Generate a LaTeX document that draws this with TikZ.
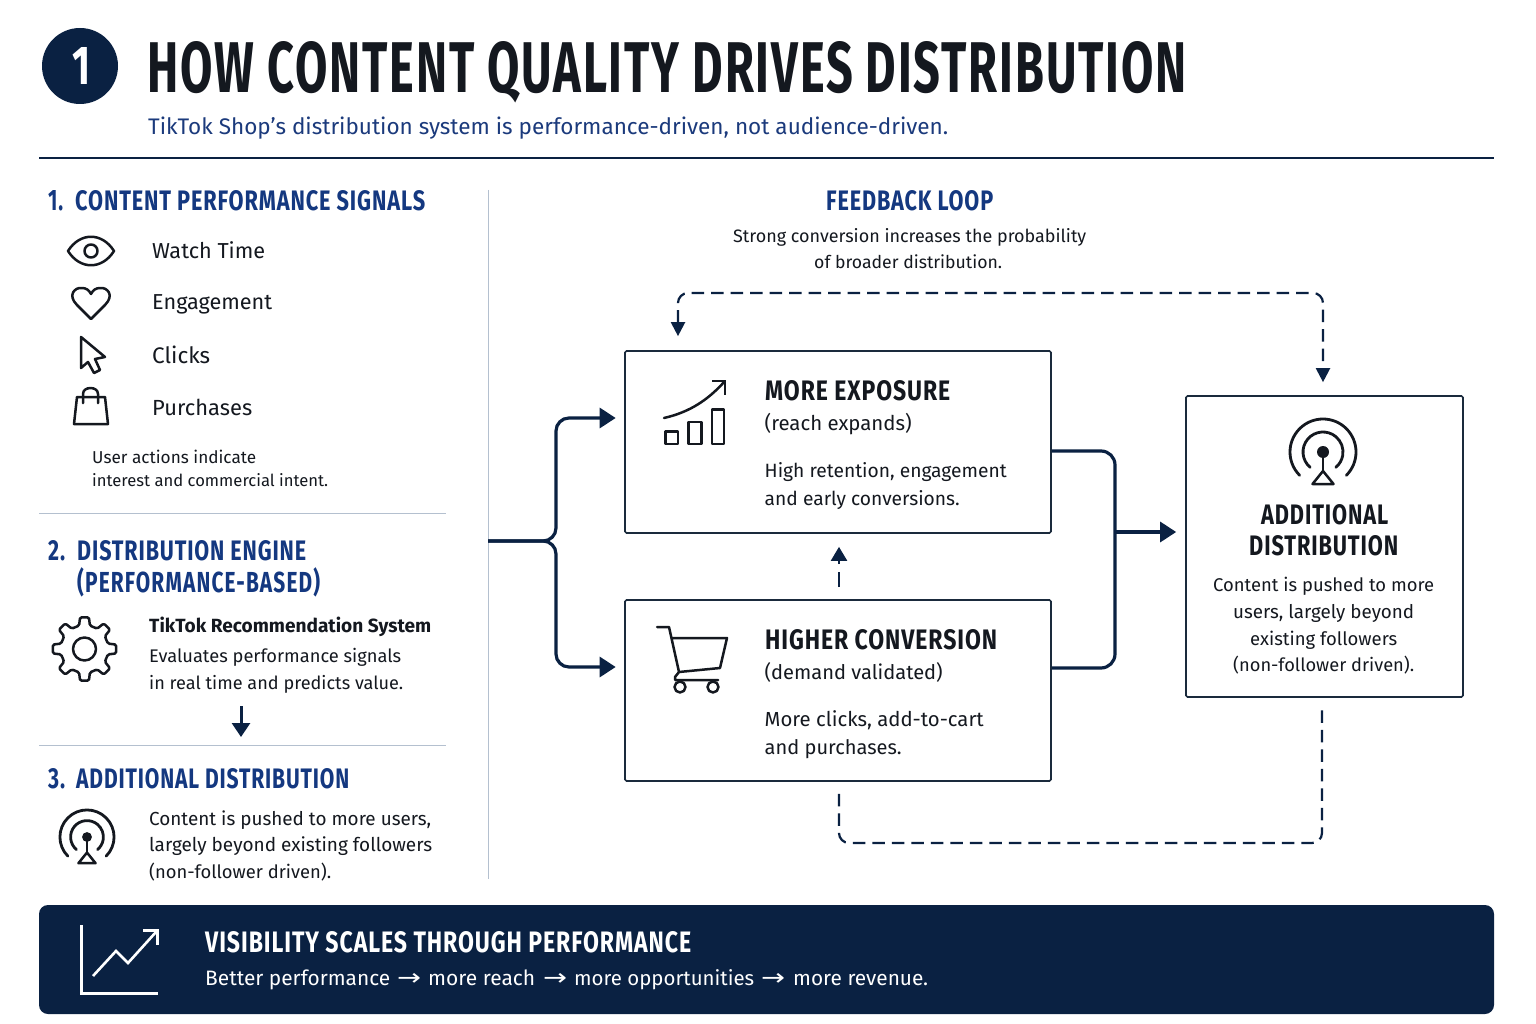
\documentclass[tikz,border=0pt]{standalone}
\usepackage{graphicx}
\usepackage{fontspec}
\setmainfont{Fira Sans}
\newfontfamily\headfont[LetterSpace=4]{Fira Sans Bold}
\newfontfamily\arrowfont{DejaVu Sans}
\usetikzlibrary{arrows.meta,calc}
\definecolor{navy}{HTML}{0A2142}
\definecolor{ink}{HTML}{14181F}
\definecolor{headblue}{HTML}{143880}
\definecolor{subblue}{HTML}{1B3A7C}
\definecolor{rule}{HTML}{B4C0CF}
\definecolor{boxline}{HTML}{1A2A3C}
\newcommand{\bodytxt}[6]{\node[#5,anchor=base west,inner sep=0pt] (#1) at (#2,#3) {\resizebox{#4pt}{!}{#6}};}
\newcommand{\headtxt}[7]{\node[#6,anchor=base west,inner sep=0pt] (#1) at (#2,#3) {\resizebox{#4pt}{#5pt}{\headfont #7}};}
\tikzset{
 body/.style={text=ink,font=\fontsize{20}{24}\selectfont},
 blk/.style={text=ink},
 sec/.style={text=headblue},
 wht/.style={text=white,font=\fontsize{20}{24}\selectfont},
 sub/.style={text=subblue,font=\fontsize{20}{24}\selectfont},
 boxst/.style={draw=boxline,line width=1.7pt,rounded corners=1.5pt,fill=white,inner sep=0pt},
 flow/.style={draw=navy,line width=3.2pt,rounded corners=13pt,-{Triangle[length=16pt,width=20pt]}},
 flowb/.style={draw=navy,line width=3.2pt,rounded corners=14pt},
 loopline/.style={draw=navy,line width=2.2pt,dash pattern=on 12.5pt off 7pt,rounded corners=10pt},
 tipsmall/.style={{Triangle[length=14pt,width=14pt]}-{Triangle[length=14pt,width=14pt]}},
 icon/.style={draw=ink,line width=2.5pt,line join=round,line cap=round},
 wicon/.style={draw=white,line width=3pt,line join=miter},
 divider/.style={draw=rule,line width=1pt},
}
\newcommand{\antennaicon}[3]{%
 \begin{scope}[shift={(#1,#2)},scale=#3]
  \draw[icon,line width=2.8pt] (135:33) arc[start angle=135,end angle=405,radius=33];
  \draw[icon,line width=2.8pt] (130:20) arc[start angle=130,end angle=410,radius=20];
  \fill[ink] (0,0) circle (6);
  \draw[icon] (0,0) -- (0,20);
  \draw[icon,line cap=butt] (0,19) -- (10.5,32) -- (-10.5,32) -- cycle;
 \end{scope}}
\begin{document}
\begin{tikzpicture}[x=1pt,y=-1pt]
\useasboundingbox (0,0) rectangle (1536,1024);
\fill[white] (0,0) rectangle (1536,1024);

% header
\node[circle,fill=navy,minimum size=76pt,inner sep=0pt] (badge) at (80,66) {};
\headtxt{badgenum}{72}{85}{18}{37}{text=white}{1}
\headtxt{title}{147}{93}{1039}{51}{text=ink}{HOW CONTENT QUALITY DRIVES DISTRIBUTION}
\bodytxt{subtitle}{148}{135}{800}{sub}{TikTok Shop’s distribution system is performance-driven, not audience-driven.}
\coordinate (hruleL) at (39,158); \coordinate (hruleR) at (1494,158);
\draw[draw=navy,line width=1.1pt] (hruleL) -- (hruleR);

% dividers
\coordinate (vtop) at (488,190); \coordinate (vbot) at (488,879);
\draw[divider] (vtop) -- (vbot);
\coordinate (d1l) at (39,513); \coordinate (d1r) at (446,513);
\coordinate (d2l) at (39,745); \coordinate (d2r) at (446,745);
\draw[divider] (d1l) -- (d1r);
\draw[divider] (d2l) -- (d2r);

% section 1
\headtxt{s1n}{48}{211}{15}{20}{sec}{1.}
\headtxt{s1}{75}{211}{350}{20}{sec}{CONTENT PERFORMANCE SIGNALS}
\bodytxt{watch}{152}{259}{113}{body}{Watch Time}
\bodytxt{engage}{152}{309}{120}{body}{Engagement}
\bodytxt{clicks}{152}{363}{58}{body}{Clicks}
\bodytxt{purch}{152}{415.5}{100}{body}{Purchases}
\bodytxt{user1}{92}{463}{164}{body}{User actions indicate}
\bodytxt{user2}{92}{486}{236}{body}{interest and commercial intent.}
% eye
\draw[icon] (68,251) .. controls (80,232) and (102,232) .. (114,251) .. controls (102,270) and (80,270) .. (68,251) -- cycle;
\draw[icon] (91,251) circle (6.5);
% heart
\draw[icon] (91,319) -- (77,305) .. controls (67,295) and (75,287) .. (82,288) .. controls (86,288) and (89,290) .. (91,294)
 .. controls (93,290) and (96,288) .. (100,288) .. controls (107,287) and (115,295) .. (105,305) -- cycle;
% cursor
\draw[icon] (81,337) -- (81,368) -- (88,362) -- (94,373) -- (100,370) -- (95,359) -- (105,357) -- cycle;
% bag
\draw[icon] (77,397) -- (105,397) -- (108,424) -- (74,424) -- cycle;
\draw[icon] (83,403) -- (83,394) .. controls (83,386) and (98,386) .. (98,394) -- (98,403);

% section 2
\headtxt{s2n}{48}{560}{17}{20}{sec}{2.}
\headtxt{s2a}{77}{560}{229}{20}{sec}{DISTRIBUTION ENGINE}
\node[sec,anchor=base west,inner sep=0pt] (s2b) at (77,592) {\resizebox{243pt}{!}{\headfont\addfontfeature{FakeStretch=0.72}(PERFORMANCE-BASED)}};
\bodytxt{reco}{149}{632}{282}{body}{\bfseries TikTok Recommendation System}
\bodytxt{eval1}{149}{662.5}{252}{body}{Evaluates performance signals}
\bodytxt{eval2}{149}{689}{254}{body}{in real time and predicts value.}
% gear
\begin{scope}[shift={(84.5,649)}]
 \draw[icon,rounded corners=1.5pt] (-13:24) -- (-8:32) -- (8:32) -- (13:24)
  -- (32:24) -- (37:32) -- (53:32) -- (58:24)
  -- (77:24) -- (82:32) -- (98:32) -- (103:24)
  -- (122:24) -- (127:32) -- (143:32) -- (148:24)
  -- (167:24) -- (172:32) -- (188:32) -- (193:24)
  -- (212:24) -- (217:32) -- (233:32) -- (238:24)
  -- (257:24) -- (262:32) -- (278:32) -- (283:24)
  -- (302:24) -- (307:32) -- (323:32) -- (328:24) -- cycle;
 \draw[icon] (0,0) circle (11.5);
\end{scope}
\coordinate (downA) at (241,706); \coordinate (downB) at (241,737);
\draw[draw=navy,line width=3pt,-{Triangle[length=14pt,width=18pt]}] (downA) -- (downB);

% section 3
\headtxt{s3n}{48}{788}{17}{20}{sec}{3.}
\headtxt{s3}{76}{788}{273}{20}{sec}{ADDITIONAL DISTRIBUTION}
\bodytxt{cont1}{149}{825}{282}{body}{Content is pushed to more users,}
\bodytxt{cont2}{149}{851.5}{283}{body}{largely beyond existing followers}
\bodytxt{cont3}{149}{878}{182}{body}{(non-follower driven).}
\antennaicon{87}{837}{0.82}

% feedback heading
\headtxt{fb}{826}{211}{167}{20}{sec}{FEEDBACK LOOP}
\bodytxt{fb1}{733}{243}{353}{body}{Strong conversion increases the probability}
\bodytxt{fb2}{814}{269}{188}{body}{of broader distribution.}

% boxes
\node[boxst,minimum width=426pt,minimum height=182pt] (exposure) at (838,442) {};
\node[boxst,minimum width=426pt,minimum height=181pt] (conversion) at (838,690.5) {};
\node[boxst,minimum width=277pt,minimum height=301pt] (additional) at (1324.5,546.5) {};

\headtxt{mx}{765}{400}{185}{20}{blk}{MORE EXPOSURE}
\bodytxt{mx1}{764.5}{430.5}{147}{body}{(reach expands)}
\bodytxt{mx2}{764.5}{477}{242}{body}{High retention, engagement}
\bodytxt{mx3}{764.5}{505}{195}{body}{and early conversions.}
\headtxt{hc}{765}{649}{232}{20}{blk}{HIGHER CONVERSION}
\bodytxt{hc1}{764.5}{679.5}{178}{body}{(demand validated)}
\bodytxt{hc2}{764.5}{726}{219}{body}{More clicks, add-to-cart}
\bodytxt{hc3}{764.5}{754}{137}{body}{and purchases.}
\headtxt{ad1}{1261}{524}{127}{20}{blk}{ADDITIONAL}
\headtxt{ad2}{1249}{555}{149}{20}{blk}{DISTRIBUTION}
\bodytxt{ad3}{1213}{591.5}{221}{body}{Content is pushed to more}
\bodytxt{ad4}{1233}{618.5}{181}{body}{users, largely beyond}
\bodytxt{ad5}{1250}{645}{147}{body}{existing followers}
\bodytxt{ad6}{1233}{671}{181}{body}{(non-follower driven).}
\antennaicon{1323}{452}{1}

% chart icon
\draw[icon] (664,418) .. controls (690,412) and (708,400) .. (725,381);
\draw[icon,line cap=butt] (712,381) -- (725,381) -- (725,395);
\draw[icon,line cap=butt] (665.5,431.5) rectangle (678,444);
\draw[icon,line cap=butt] (688.5,422) rectangle (701.5,444);
\draw[icon,line cap=butt] (712,409.5) rectangle (724,444);
% cart icon
\draw[icon] (657,627) -- (669,627) -- (679,672) -- (720,668) -- (727,638) -- (672,638);
\draw[icon] (679,672) -- (675,677) -- (675,680) -- (718,680);
\draw[icon,fill=white] (680,687) circle (5.5);
\draw[icon,fill=white] (713,687) circle (5.5);

% connectors
\coordinate (trunk) at (488,541);
\coordinate (junction) at (556,541);
\coordinate (busT) at (556,418);
\coordinate (busB) at (556,667);
\draw[flow,shorten >=8.5pt] (trunk) -- (junction) -- (busT) -- ([yshift=24pt]exposure.west);
\draw[flow,shorten >=8.5pt] (trunk) -- (junction) -- (busB) -- ([yshift=23.5pt]conversion.west);
\coordinate (busR) at (1115,532);
\draw[flowb] ([yshift=-9pt]exposure.east) -| (busR) |- ([yshift=22.5pt]conversion.east);
\draw[flow,shorten >=9pt] (busR) -- ([yshift=14.5pt]additional.west);
\coordinate (loopTL) at (678,293);
\coordinate (loopTR) at (1323,293);
\draw[loopline,tipsmall] ([xshift=-160pt,yshift=14pt]exposure.north) -- (loopTL) -- (loopTR) -- ([xshift=-1.5pt,yshift=13pt]additional.north);
\draw[loopline,dash pattern=on 15pt off 8pt,-{Triangle[length=14pt,width=16pt]}] ([xshift=1pt,yshift=12pt]conversion.north) -- ([xshift=1pt,yshift=-13pt]exposure.south);
\coordinate (loopBL) at (839,843);
\coordinate (loopBR) at (1322,843);
\draw[loopline] ([xshift=1pt,yshift=-12pt]conversion.south) -- (loopBL) -- (loopBR) -- ([xshift=-2.5pt,yshift=-11pt]additional.south);

% banner
\node[fill=navy,rounded corners=9pt,minimum width=1455pt,minimum height=109pt,inner sep=0pt] (banner) at (766.5,959.5) {};
\draw[wicon] (81,925) -- (81,993) -- (158,993);
\draw[wicon,line width=2.6pt] (93,976) -- (116,951) -- (128,963) -- (156,932);
\draw[wicon,line width=2.6pt] (143,930.5) -- (157.5,930.5) -- (157.5,945);
\headtxt{bh}{205}{952}{486}{21}{text=white}{VISIBILITY SCALES THROUGH PERFORMANCE}
\bodytxt{bt1}{205}{985}{185}{wht}{Better performance}
\node[wht,anchor=base west,inner sep=0pt] (ba1) at (397,985) {\resizebox{24pt}{12pt}{\arrowfont →}};
\bodytxt{bt2}{428}{985}{107}{wht}{more reach}
\node[wht,anchor=base west,inner sep=0pt] (ba2) at (543,985) {\resizebox{24pt}{12pt}{\arrowfont →}};
\bodytxt{bt3}{574}{985}{180}{wht}{more opportunities}
\node[wht,anchor=base west,inner sep=0pt] (ba3) at (761,985) {\resizebox{24pt}{12pt}{\arrowfont →}};
\bodytxt{bt4}{793}{985}{135}{wht}{more revenue.}
\end{tikzpicture}
\end{document}
